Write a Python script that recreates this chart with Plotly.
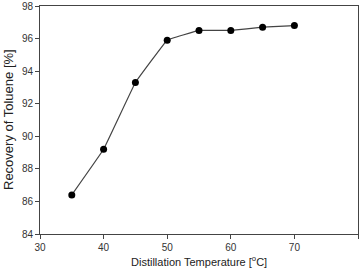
import plotly.graph_objects as go

temperature = [35, 40, 45, 50, 55, 60, 65, 70]
recovery = [86.4, 89.2, 93.3, 95.9, 96.5, 96.5, 96.7, 96.8]
x_ticks = [30, 40, 50, 60, 70, 80]
y_ticks = [84, 86, 88, 90, 92, 94, 96, 98]
x_title = "Distillation Temperature [<sup>o</sup>C]"
y_title = "Recovery of Toluene [%]"

fig = go.Figure()
fig.add_trace(go.Scatter(
    x=temperature, y=recovery, mode="lines+markers",
    line=dict(color="#444444", width=1.2, shape="spline", smoothing=0.15),
    marker=dict(color="black", size=7),
    showlegend=False,
))

axis_common = dict(
    showgrid=False, zeroline=False, showline=True, linecolor="#444444",
    linewidth=1, mirror=True, ticks="outside", ticklen=4, tickcolor="#444444",
    tickfont=dict(family="Liberation Sans, Arial", size=10, color="#333333"),
    automargin=False,
)
fig.update_xaxes(range=[30, 80], tickvals=x_ticks, **axis_common)
fig.update_yaxes(range=[84, 98], tickvals=y_ticks, **axis_common)

fig.add_annotation(text=x_title, xref="paper", yref="paper", x=0.5, y=0,
                   xanchor="center", yanchor="middle", yshift=-27, showarrow=False,
                   font=dict(family="Liberation Sans, Arial", size=11, color="#222222"))
fig.add_annotation(text=y_title, xref="paper", yref="paper", x=0, y=0.5,
                   xanchor="center", yanchor="middle", xshift=-32, textangle=-90,
                   showarrow=False,
                   font=dict(family="Liberation Sans, Arial", size=13, color="#222222"))

fig.update_layout(
    width=362, height=270, margin=dict(l=40, r=4, t=6, b=36),
    plot_bgcolor="white", paper_bgcolor="white",
)
fig.write_html("out.html")
